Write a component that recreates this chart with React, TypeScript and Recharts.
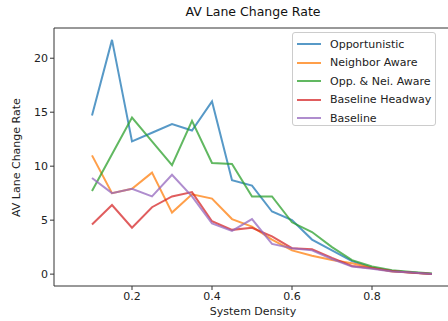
import React from 'react';
import { LineChart, Line, XAxis, YAxis, ReferenceLine } from 'recharts';

// system density sampled every 0.05
const densities = [0.1, 0.15, 0.2, 0.25, 0.3, 0.35, 0.4, 0.45, 0.5, 0.55, 0.6, 0.65, 0.7, 0.75, 0.8, 0.85, 0.9, 0.95];

const opportunistic = [14.7, 21.7, 12.3, 13.1, 13.9, 13.3, 16.0, 8.7, 8.2, 5.8, 5.0, 3.2, 2.2, 1.2, 0.6, 0.3, 0.15, 0.02];
const neighborAware = [11.0, 7.5, 7.9, 9.4, 5.7, 7.4, 7.0, 5.1, 4.4, 3.2, 2.2, 1.7, 1.3, 1.0, 0.6, 0.25, 0.15, 0.02];
const oppNeiAware = [7.7, 11.1, 14.5, 12.3, 10.1, 14.2, 10.3, 10.2, 7.2, 7.2, 4.8, 3.9, 2.5, 1.3, 0.7, 0.35, 0.2, 0.05];
const baselineHeadway = [4.6, 6.4, 4.3, 6.2, 7.2, 7.6, 4.9, 4.1, 4.3, 3.5, 2.4, 2.3, 1.5, 0.75, 0.55, 0.3, 0.12, 0.02];
const baseline = [8.9, 7.5, 7.9, 7.2, 9.2, 7.2, 4.7, 4.0, 5.1, 2.8, 2.4, 2.2, 1.4, 0.7, 0.5, 0.25, 0.15, 0.02];

const xTicks = [0.2, 0.4, 0.6, 0.8];
const yTicks = [0, 5, 10, 15, 20];

const series = [
  { key: 'opportunistic', name: 'Opportunistic', color: '#1f77b4' },
  { key: 'neighborAware', name: 'Neighbor Aware', color: '#ff7f0e' },
  { key: 'oppNeiAware', name: 'Opp. & Nei. Aware', color: '#2ca02c' },
  { key: 'baselineHeadway', name: 'Baseline Headway', color: '#d62728' },
  { key: 'baseline', name: 'Baseline', color: '#9467bd' },
];

const data = densities.map((d, i) => ({
  density: d,
  opportunistic: opportunistic[i],
  neighborAware: neighborAware[i],
  oppNeiAware: oppNeiAware[i],
  baselineHeadway: baselineHeadway[i],
  baseline: baseline[i],
}));

const font = '"DejaVu Sans", sans-serif';
const Y_MAX = 22.8;

function LegendBox() {
  return (
    <div
      style={{
        position: 'absolute',
        left: 292,
        top: 32,
        width: 144,
        height: 94,
        border: '1px solid #cccccc',
        borderRadius: 3,
        background: 'rgba(255,255,255,0.85)',
        fontFamily: font,
        fontSize: 11,
        color: '#222',
        paddingTop: 2,
        boxSizing: 'border-box',
      }}
    >
      {series.map((s) => (
        <div key={s.key} style={{ display: 'flex', alignItems: 'center', height: 18.5 }}>
          <svg width={37} height={10} style={{ flex: 'none' }}>
            <line x1={4} x2={28} y1={5} y2={5} stroke={s.color} strokeOpacity={0.75} strokeWidth={2} />
          </svg>
          <span>{s.name}</span>
        </div>
      ))}
    </div>
  );
}

export default function App() {
  return (
    <div style={{ position: 'absolute', left: 0, top: 0, width: 448, height: 321, overflow: 'hidden', background: '#fff' }}>
      <div
        style={{
          position: 'absolute',
          top: 4,
          left: 54,
          width: 398,
          textAlign: 'center',
          fontFamily: font,
          fontSize: 12.5,
          color: '#111',
        }}
      >
        AV Lane Change Rate
      </div>
      <LineChart width={460} height={321} data={data} margin={{ top: 28, right: 8, left: 0, bottom: 0 }}>
        <XAxis
          dataKey="density"
          type="number"
          domain={[0.005, 1.0]}
          ticks={xTicks}
          allowDataOverflow
          height={35}
          tickSize={4}
          stroke="#333"
          tick={{ fill: '#222', fontSize: 11, fontFamily: font }}
        />
        <YAxis
          type="number"
          domain={[-1.1, Y_MAX]}
          ticks={yTicks}
          allowDataOverflow
          width={54}
          tickSize={4}
          stroke="#333"
          tick={{ fill: '#222', fontSize: 11, fontFamily: font }}
          label={{ value: 'AV Lane Change Rate', angle: -90, position: 'insideLeft', offset: 16, dy: 60, fill: '#222', fontSize: 11, fontFamily: font }}
        />
        <ReferenceLine y={Y_MAX} stroke="#333" ifOverflow="extendDomain" />
        {series.map((s) => (
          <Line
            key={s.key}
            type="linear"
            dataKey={s.key}
            name={s.name}
            stroke={s.color}
            strokeOpacity={0.75}
            strokeWidth={2}
            dot={false}
            isAnimationActive={false}
          />
        ))}
      </LineChart>
      <LegendBox />
      <div
        style={{
          position: 'absolute',
          top: 305,
          left: 54,
          width: 398,
          textAlign: 'center',
          fontFamily: font,
          fontSize: 11,
          color: '#222',
        }}
      >
        System Density
      </div>
    </div>
  );
}
